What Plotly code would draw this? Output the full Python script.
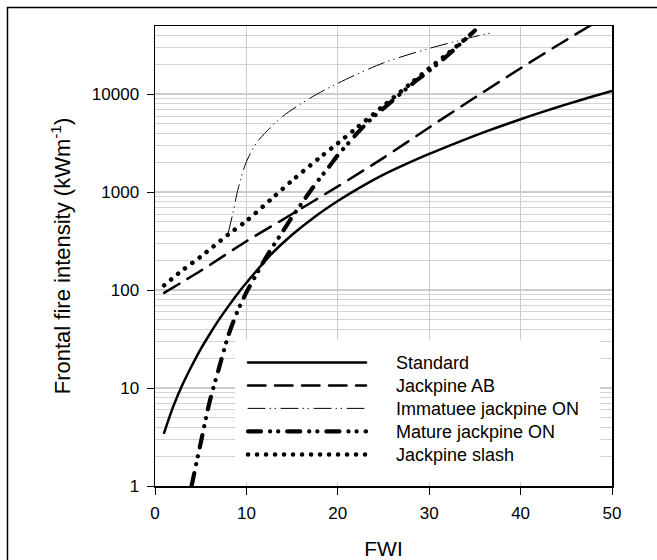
import plotly.graph_objects as go

# ---------------- data ----------------
std_x = [1, 2, 3, 4, 5, 6, 7, 8, 9, 10, 12.5, 15, 17.5, 20, 22.5, 25, 27.5, 30, 32.5, 35, 37.5, 40, 42.5, 45, 47.5, 50]
std_y = [3.5, 6.5, 10.8, 16.7, 25, 35.7, 50, 68, 91, 119, 222, 368, 564, 815, 1130, 1514, 1950, 2466, 3076, 3793, 4624, 5578, 6668, 7907, 9290, 10860]

ab_x = [1, 5, 10, 15, 20, 25, 30, 35, 40, 45, 48]
ab_y = [94, 158, 316, 600, 1150, 2250, 4600, 9300, 18500, 36000, 53000]

imm_x = [8, 8.5, 9, 9.5, 10, 11, 12, 14, 17, 20, 25, 30, 35, 37]
imm_y = [380, 600, 1000, 1500, 2050, 3100, 4000, 6000, 9200, 13000, 21000, 29500, 39000, 43000]

mat_x = [4, 5, 6, 7, 8, 9, 10, 11, 12, 13, 14, 15, 16, 17, 18, 19, 20, 21, 22, 23, 24, 25, 28, 30, 32, 35]
mat_y = [1.0, 2.75, 7.4, 16, 34, 60, 95, 140, 205, 290, 400, 560, 760, 1030, 1380, 1800, 2400, 3050, 3900, 4900, 6000, 7200, 12500, 17500, 25000, 45000]

sl_x = [1, 3, 5, 8, 10, 13, 15, 18, 20, 22, 25, 28, 30, 32, 35]
sl_y = [112, 160, 220, 370, 510, 900, 1320, 2250, 3170, 4500, 7650, 13000, 18500, 26000, 44600]

series_names = ["Standard", "Jackpine AB", "Immatuee jackpine ON", "Mature jackpine ON", "Jackpine slash"]

x_tickvals = [0, 10, 20, 30, 40, 50]
x_ticktext = ["0", "10", "20", "30", "40", "50"]
y_tickvals = [1, 10, 100, 1000, 10000]
y_ticktext = ["1", "10", "100", "1000", "10000"]

# ---------------- figure ----------------
pad = "\u00a0" * 5
styles = [
    dict(width=2.5, dash="solid"),
    dict(width=2.5, dash="17.5px,9.5px"),
    dict(width=1, dash="17px,5px,0.5px,4.5px,0.5px,5.5px"),
    dict(width=4.2, dash="13px,9px,0.1px,8px,0.1px,9px"),
    dict(width=4.5, dash="0.1px,8.9px"),
]
xs = [std_x, ab_x, imm_x, mat_x, sl_x]
ys = [std_y, ab_y, imm_y, mat_y, sl_y]

fig = go.Figure()
for name, x, y, st in zip(series_names, xs, ys, styles):
    fig.add_trace(go.Scatter(
        x=x, y=y, mode="lines", name=pad + name,
        line=dict(color="black", width=st["width"], dash=st["dash"], shape="spline", smoothing=0.8),
        hoverinfo="skip",
    ))

font_family = "Arial, 'Liberation Sans', sans-serif"
fig.update_layout(
    width=657, height=560,
    margin=dict(l=155, r=45, t=26, b=74, autoexpand=False),
    paper_bgcolor="white", plot_bgcolor="white",
    font=dict(family=font_family, color="black", size=17),
    showlegend=True,
    hovermode=False,
    legend=dict(
        x=0.1926, y=0.317, xanchor="left", yanchor="top",
        bgcolor="white", borderwidth=0,
        font=dict(size=18, family=font_family, color="black"),
        itemwidth=118, tracegroupgap=0,
    ),
    xaxis=dict(
        range=[0, 50], tickvals=x_tickvals, ticktext=x_ticktext,
        showgrid=True, gridcolor="#cccccc", gridwidth=1.2,
        showline=True, linecolor="black", linewidth=1.5, mirror=True,
        ticks="outside", ticklen=7, tickcolor="black", tickwidth=1,
        tickfont=dict(size=17), ticklabelstandoff=4,
        zeroline=False,
        title=dict(text="FWI", font=dict(size=21), standoff=23),
    ),
    yaxis=dict(
        type="log", range=[0, 4.699], tickvals=y_tickvals, ticktext=y_ticktext,
        showgrid=True, gridcolor="#cccccc", gridwidth=2,
        minor=dict(dtick="D1", showgrid=True, gridcolor="#d4d4d4", gridwidth=1, ticks=""),
        showline=True, linecolor="black", linewidth=1.5, mirror=True,
        ticks="outside", ticklen=7, tickcolor="black", tickwidth=1,
        tickfont=dict(size=17), ticklabelstandoff=4,
        zeroline=False,
        title=dict(text="Frontal fire intensity (kWm<sup>-1</sup>)", font=dict(size=22), standoff=15),
    ),
    shapes=[dict(type="rect", xref="paper", yref="paper",
                 x0=-0.3228, x1=1.3, y0=-0.4, y1=1.0402,
                 line=dict(color="black", width=1.5), fillcolor="rgba(0,0,0,0)", layer="above")],
)

post = r"""
var st=document.createElement('style');
st.textContent='body{margin:0 !important;} path.js-line{stroke-linecap:round !important;}';
document.head.appendChild(st);
var gd=document.getElementById('{plot_id}');
if(gd){
  var tr=gd.querySelectorAll('.legend .traces');
  var y0=null;
  for(var i=0;i<tr.length;i++){
    var t=tr[i].getAttribute('transform')||'';
    var m=/translate\(\s*([-\d.e]+)[ ,]\s*([-\d.e]+)\s*\)/.exec(t);
    if(!m) continue;
    var x=parseFloat(m[1]), y=parseFloat(m[2]);
    if(y0===null) y0=y;
    tr[i].setAttribute('transform','translate('+x+','+(y0+4+i*23)+')');
  }
  var bg=gd.querySelector('.legend .bg');
  if(bg){bg.setAttribute('x',-8);bg.setAttribute('width',365);bg.setAttribute('height',142);}
}
"""
fig.write_html("out.html", post_script=post, config={"displayModeBar": False, "staticPlot": True})
